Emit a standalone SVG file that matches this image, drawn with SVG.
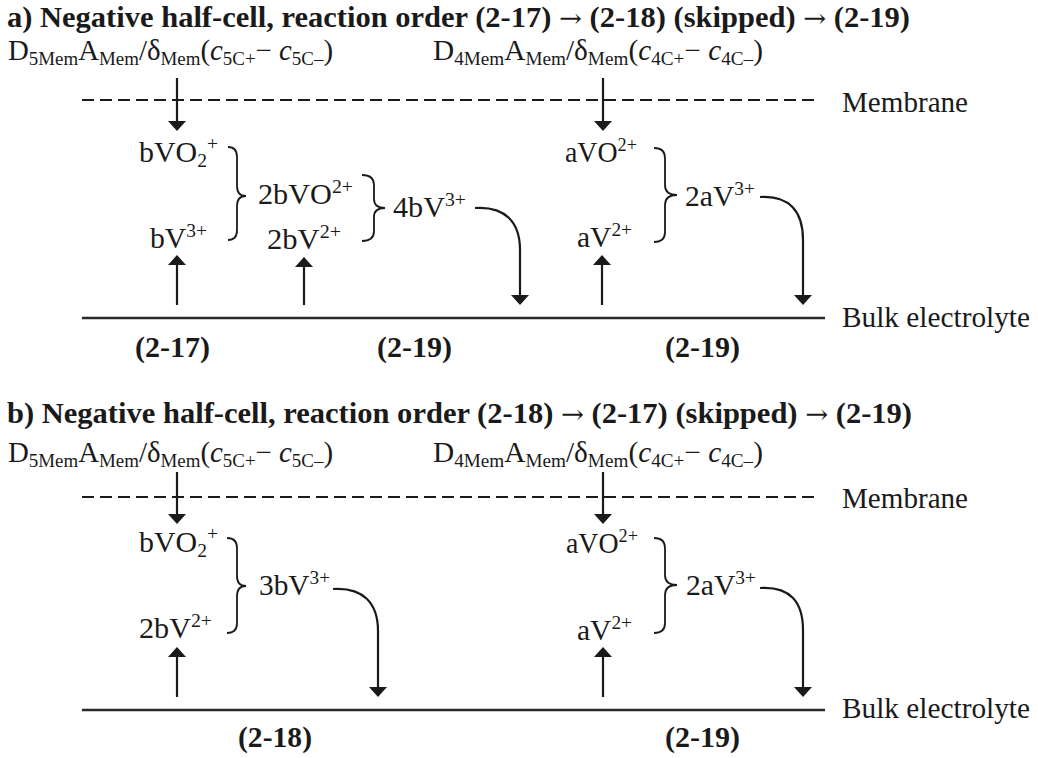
<svg xmlns="http://www.w3.org/2000/svg" width="1038" height="758" viewBox="0 0 1038 758">
<defs>
<style>
.t{font-family:"Liberation Serif","Times New Roman",serif;font-size:29px;fill:#1a1a1a}
.b{font-weight:bold}
.ar{font-family:"DejaVu Serif",serif;font-weight:normal;font-size:26px}
.s{font-size:19px}
.i{font-style:italic}
.ln{stroke:#1a1a1a;stroke-width:2.2;fill:none}
.br{stroke:#1a1a1a;stroke-width:1.8;fill:none}
.ds{stroke:#1a1a1a;stroke-width:2;stroke-dasharray:12 6;fill:none}
.base{stroke:#2a2a2a;stroke-width:2.5;fill:none}
</style>
<marker id="ah" viewBox="0 0 10 18" markerWidth="10" markerHeight="18" refX="0" refY="9" orient="auto" markerUnits="userSpaceOnUse">
<path d="M0,0 L10,9 L0,18 Z" fill="#1a1a1a"/>
</marker>
</defs>
<rect width="1038" height="758" fill="#fff"/>

<g id="panel-a-title"><text class="t b" x="7" y="27" textLength="903" lengthAdjust="spacingAndGlyphs">a) Negative half-cell, reaction order (2-17) <tspan class="ar">→</tspan> (2-18) (skipped) <tspan class="ar">→</tspan> (2-19)</text></g>
<g id="a-flux5"><text class="t" x="8" y="60" textLength="325" lengthAdjust="spacingAndGlyphs">D<tspan class="s" dy="5">5Mem</tspan><tspan dy="-5">A</tspan><tspan class="s" dy="5">Mem</tspan><tspan dy="-5">/δ</tspan><tspan class="s" dy="5">Mem</tspan><tspan dy="-5">(</tspan><tspan class="i">c</tspan><tspan class="s" dy="5">5C+</tspan><tspan dy="-5">− </tspan><tspan class="i">c</tspan><tspan class="s" dy="5">5C–</tspan><tspan dy="-5">)</tspan></text></g>
<g id="a-flux4"><text class="t" x="433" y="60" textLength="330" lengthAdjust="spacingAndGlyphs">D<tspan class="s" dy="5">4Mem</tspan><tspan dy="-5">A</tspan><tspan class="s" dy="5">Mem</tspan><tspan dy="-5">/δ</tspan><tspan class="s" dy="5">Mem</tspan><tspan dy="-5">(</tspan><tspan class="i">c</tspan><tspan class="s" dy="5">4C+</tspan><tspan dy="-5">− </tspan><tspan class="i">c</tspan><tspan class="s" dy="5">4C–</tspan><tspan dy="-5">)</tspan></text></g>
<g id="a-membrane"><text class="t" x="842" y="112" textLength="126" lengthAdjust="spacingAndGlyphs">Membrane</text></g>
<g id="a-bVO2"><text class="t" x="139" y="162" textLength="79" lengthAdjust="spacingAndGlyphs">bVO<tspan class="s" dy="5">2</tspan><tspan class="s" dy="-17">+</tspan></text></g>
<g id="a-bV3"><text class="t" x="150" y="248" textLength="57" lengthAdjust="spacingAndGlyphs">bV<tspan class="s" dy="-11">3+</tspan></text></g>
<g id="a-2bVO"><text class="t" x="258" y="204" textLength="95" lengthAdjust="spacingAndGlyphs">2bVO<tspan class="s" dy="-11">2+</tspan></text></g>
<g id="a-2bV2"><text class="t" x="267" y="249" textLength="74" lengthAdjust="spacingAndGlyphs">2bV<tspan class="s" dy="-11">2+</tspan></text></g>
<g id="a-4bV3"><text class="t" x="393" y="217" textLength="73" lengthAdjust="spacingAndGlyphs">4bV<tspan class="s" dy="-11">3+</tspan></text></g>
<g id="a-aVO"><text class="t" x="565" y="162" textLength="72" lengthAdjust="spacingAndGlyphs">aVO<tspan class="s" dy="-11">2+</tspan></text></g>
<g id="a-aV2"><text class="t" x="577" y="247" textLength="55" lengthAdjust="spacingAndGlyphs">aV<tspan class="s" dy="-11">2+</tspan></text></g>
<g id="a-2aV3"><text class="t" x="685" y="206" textLength="70" lengthAdjust="spacingAndGlyphs">2aV<tspan class="s" dy="-11">3+</tspan></text></g>
<g id="a-bulk"><text class="t" x="842" y="327" textLength="188" lengthAdjust="spacingAndGlyphs">Bulk electrolyte</text></g>
<g id="a-l1"><text class="t b" x="135" y="357" textLength="75" lengthAdjust="spacingAndGlyphs">(2-17)</text></g>
<g id="a-l2"><text class="t b" x="377" y="357" textLength="75" lengthAdjust="spacingAndGlyphs">(2-19)</text></g>
<g id="a-l3"><text class="t b" x="665" y="357" textLength="75" lengthAdjust="spacingAndGlyphs">(2-19)</text></g>

<g id="panel-b-title"><text class="t b" x="7" y="423" textLength="905" lengthAdjust="spacingAndGlyphs">b) Negative half-cell, reaction order (2-18) <tspan class="ar">→</tspan> (2-17) (skipped) <tspan class="ar">→</tspan> (2-19)</text></g>
<g id="b-flux5"><text class="t" x="8" y="462" textLength="325" lengthAdjust="spacingAndGlyphs">D<tspan class="s" dy="5">5Mem</tspan><tspan dy="-5">A</tspan><tspan class="s" dy="5">Mem</tspan><tspan dy="-5">/δ</tspan><tspan class="s" dy="5">Mem</tspan><tspan dy="-5">(</tspan><tspan class="i">c</tspan><tspan class="s" dy="5">5C+</tspan><tspan dy="-5">− </tspan><tspan class="i">c</tspan><tspan class="s" dy="5">5C–</tspan><tspan dy="-5">)</tspan></text></g>
<g id="b-flux4"><text class="t" x="433" y="462" textLength="330" lengthAdjust="spacingAndGlyphs">D<tspan class="s" dy="5">4Mem</tspan><tspan dy="-5">A</tspan><tspan class="s" dy="5">Mem</tspan><tspan dy="-5">/δ</tspan><tspan class="s" dy="5">Mem</tspan><tspan dy="-5">(</tspan><tspan class="i">c</tspan><tspan class="s" dy="5">4C+</tspan><tspan dy="-5">− </tspan><tspan class="i">c</tspan><tspan class="s" dy="5">4C–</tspan><tspan dy="-5">)</tspan></text></g>
<g id="b-membrane"><text class="t" x="842" y="508" textLength="126" lengthAdjust="spacingAndGlyphs">Membrane</text></g>
<g id="b-bVO2"><text class="t" x="139" y="552" textLength="79" lengthAdjust="spacingAndGlyphs">bVO<tspan class="s" dy="5">2</tspan><tspan class="s" dy="-17">+</tspan></text></g>
<g id="b-2bV2"><text class="t" x="139" y="638" textLength="73" lengthAdjust="spacingAndGlyphs">2bV<tspan class="s" dy="-11">2+</tspan></text></g>
<g id="b-3bV3"><text class="t" x="259" y="595" textLength="71" lengthAdjust="spacingAndGlyphs">3bV<tspan class="s" dy="-11">3+</tspan></text></g>
<g id="b-aVO"><text class="t" x="566" y="553" textLength="72" lengthAdjust="spacingAndGlyphs">aVO<tspan class="s" dy="-11">2+</tspan></text></g>
<g id="b-aV2"><text class="t" x="577" y="640" textLength="55" lengthAdjust="spacingAndGlyphs">aV<tspan class="s" dy="-11">2+</tspan></text></g>
<g id="b-2aV3"><text class="t" x="686" y="595" textLength="70" lengthAdjust="spacingAndGlyphs">2aV<tspan class="s" dy="-11">3+</tspan></text></g>
<g id="b-bulk"><text class="t" x="842" y="718" textLength="188" lengthAdjust="spacingAndGlyphs">Bulk electrolyte</text></g>
<g id="b-l1"><text class="t b" x="238" y="747" textLength="74" lengthAdjust="spacingAndGlyphs">(2-18)</text></g>
<g id="b-l2"><text class="t b" x="665" y="747" textLength="75" lengthAdjust="spacingAndGlyphs">(2-19)</text></g>

<g id="connectors">
<line class="ds" x1="82" y1="100" x2="817" y2="100"/>
<line class="base" x1="82" y1="318" x2="825" y2="318"/>
<line class="ln" x1="177" y1="78" x2="177" y2="121" marker-end="url(#ah)"/>
<line class="ln" x1="603" y1="78" x2="603" y2="121" marker-end="url(#ah)"/>
<line class="ln" x1="177" y1="305" x2="177" y2="265" marker-end="url(#ah)"/>
<line class="ln" x1="304" y1="305" x2="304" y2="267" marker-end="url(#ah)"/>
<line class="ln" x1="602" y1="305" x2="602" y2="265" marker-end="url(#ah)"/>
<path class="ln" d="M475,208 C505,206 520,222 520,250 L520,295" marker-end="url(#ah)"/>
<path class="ln" d="M760,197 C790,195 803,212 803,240 L803,295" marker-end="url(#ah)"/>
<path class="br" d="M228,147 Q237,147 237,157 L237,186 Q237,196 246,196 Q237,196 237,206 L237,230 Q237,240 228,240"/>
<path class="br" d="M362,175 Q374,175 374,185 L374,199 Q374,208 385,208 Q374,208 374,217 L374,231 Q374,241 362,241"/>
<path class="br" d="M654,148 Q665,148 665,158 L665,185 Q665,195 677,195 Q665,195 665,205 L665,232 Q665,242 654,242"/>
<line class="ds" x1="82" y1="497" x2="817" y2="497"/>
<line class="base" x1="82" y1="710" x2="825" y2="710"/>
<line class="ln" x1="177" y1="472" x2="177" y2="514" marker-end="url(#ah)"/>
<line class="ln" x1="603" y1="472" x2="603" y2="514" marker-end="url(#ah)"/>
<line class="ln" x1="177" y1="697" x2="177" y2="657" marker-end="url(#ah)"/>
<line class="ln" x1="603" y1="697" x2="603" y2="657" marker-end="url(#ah)"/>
<path class="ln" d="M333,589 C363,587 378,603 378,631 L378,687" marker-end="url(#ah)"/>
<path class="ln" d="M760,588 C790,586 803,602 803,630 L803,687" marker-end="url(#ah)"/>
<path class="br" d="M227,538 Q237,538 237,548 L237,576 Q237,586 246,586 Q237,586 237,596 L237,623 Q237,633 227,633"/>
<path class="br" d="M654,538 Q665,538 665,548 L665,575 Q665,585 677,585 Q665,585 665,595 L665,623 Q665,633 654,633"/>
</g>
</svg>
